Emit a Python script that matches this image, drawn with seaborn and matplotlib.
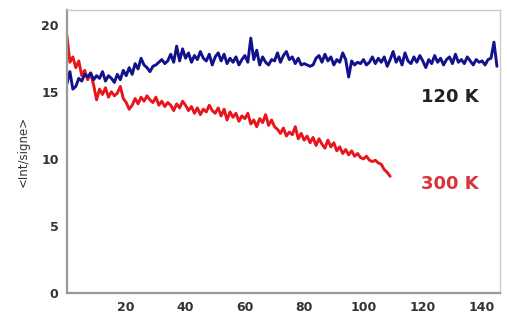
import numpy as np
import pandas as pd
import matplotlib
matplotlib.use("Agg")
import matplotlib.pyplot as plt
import seaborn as sns

# values (step = 1)
blue_120k = [15.6, 16.5, 15.2, 15.4, 16.0, 15.8, 16.3, 16.1, 16.4, 15.9,
             16.2, 16.0, 16.5, 15.8, 16.2, 16.0, 15.7, 16.3, 15.9, 16.6,
             16.2, 16.8, 16.3, 17.1, 16.7, 17.5, 17.0, 16.8, 16.5, 16.9,
             17.0, 17.2, 17.4, 17.1, 17.3, 17.8, 17.2, 18.4, 17.3, 18.2,
             17.5, 17.9, 17.2, 17.7, 17.4, 18.0, 17.5, 17.3, 17.8, 17.0,
             17.6, 17.9, 17.3, 17.8, 17.1, 17.5, 17.2, 17.6, 17.0, 17.4,
             17.7, 17.2, 19.0, 17.4, 18.1, 17.0, 17.6, 17.2, 17.0, 17.4,
             17.3, 17.9, 17.2, 17.7, 18.0, 17.4, 17.6, 17.1, 17.5, 17.0,
             17.1, 17.0, 16.9, 17.0, 17.5, 17.7, 17.2, 17.8, 17.3, 17.6,
             17.0, 17.4, 17.2, 17.9, 17.4, 16.1, 17.3, 17.0, 17.2, 17.1,
             17.4, 17.0, 17.2, 17.6, 17.1, 17.5, 17.2, 17.6, 16.9, 17.4,
             18.0, 17.2, 17.6, 17.0, 17.9, 17.3, 17.1, 17.6, 17.2, 17.7,
             17.3, 16.8, 17.4, 17.1, 17.7, 17.2, 17.5, 17.0, 17.4, 17.6,
             17.1, 17.8, 17.2, 17.4, 17.1, 17.6, 17.3, 17.0, 17.4, 17.2,
             17.3, 17.0, 17.4, 17.5, 18.7, 16.9]

red_300k = [19.2, 17.2, 17.6, 16.8, 17.3, 16.2, 16.6, 15.9, 16.4, 15.5,
            14.4, 15.2, 14.8, 15.3, 14.6, 15.0, 14.7, 14.9, 15.4, 14.5,
            14.2, 13.7, 14.0, 14.5, 14.1, 14.6, 14.3, 14.7, 14.4, 14.2,
            14.6, 14.0, 14.3, 13.9, 14.2, 14.0, 13.6, 14.1, 13.8, 14.3,
            14.0, 13.6, 13.9, 13.4, 13.8, 13.3, 13.7, 13.5, 14.0, 13.6,
            13.4, 13.8, 13.2, 13.7, 12.9, 13.5, 13.1, 13.4, 12.8, 13.2,
            13.0, 13.4, 12.6, 12.9, 12.4, 13.0, 12.7, 13.3, 12.5, 12.9,
            12.4, 12.2, 11.9, 12.3, 11.7, 12.0, 11.8, 12.4, 11.5, 11.9,
            11.4, 11.7, 11.2, 11.6, 11.0, 11.5, 11.1, 10.8, 11.4, 10.9,
            11.2, 10.6, 10.9, 10.4, 10.7, 10.3, 10.6, 10.2, 10.4, 10.1,
            10.0, 10.2, 9.9, 9.8, 9.9, 9.7, 9.6, 9.2, 9.0, 8.7]

xticks = [20, 40, 60, 80, 100, 120, 140]
yticks = [0, 5, 10, 15, 20]

blue_df = pd.DataFrame({"t": np.arange(len(blue_120k)), "v": blue_120k})
red_df = pd.DataFrame({"t": np.arange(len(red_300k)), "v": red_300k})

sns.set_style("white")
plt.rcParams["font.family"] = ["DejaVu Sans"]

fig = plt.figure(figsize=(5.07, 3.2), dpi=100)
ax = fig.add_axes([0.132, 0.084, 0.854, 0.885])

sns.lineplot(data=red_df, x="t", y="v", ax=ax, color="#e8161c", lw=2.1)
sns.lineplot(data=blue_df, x="t", y="v", ax=ax, color="#12128c", lw=2.1)

ax.text(129, 14.6, "120 K", color="#222222", fontsize=13, fontweight="bold",
        ha="center", va="center")
ax.text(129, 8.1, "300 K", color="#d8343a", fontsize=13, fontweight="bold",
        ha="center", va="center")

ax.set_xlim(0, 146)
ax.set_ylim(0, 21.1)
ax.set_xticks(xticks)
ax.set_yticks(yticks)
ax.tick_params(direction="in", length=3, labelsize=9, colors="#333333", pad=6)
for lab in ax.get_xticklabels() + ax.get_yticklabels():
    lab.set_fontweight("bold")
ax.set_xlabel("")
ax.set_ylabel("<Int/signe>", fontsize=8.5, color="#333333", labelpad=8)
for sp in ax.spines.values():
    sp.set_color("#cccccc")
    sp.set_linewidth(1.0)
for side in ("left", "bottom"):
    ax.spines[side].set_color("#999999")
    ax.spines[side].set_linewidth(1.6)

fig.savefig("out.png", dpi=100)
